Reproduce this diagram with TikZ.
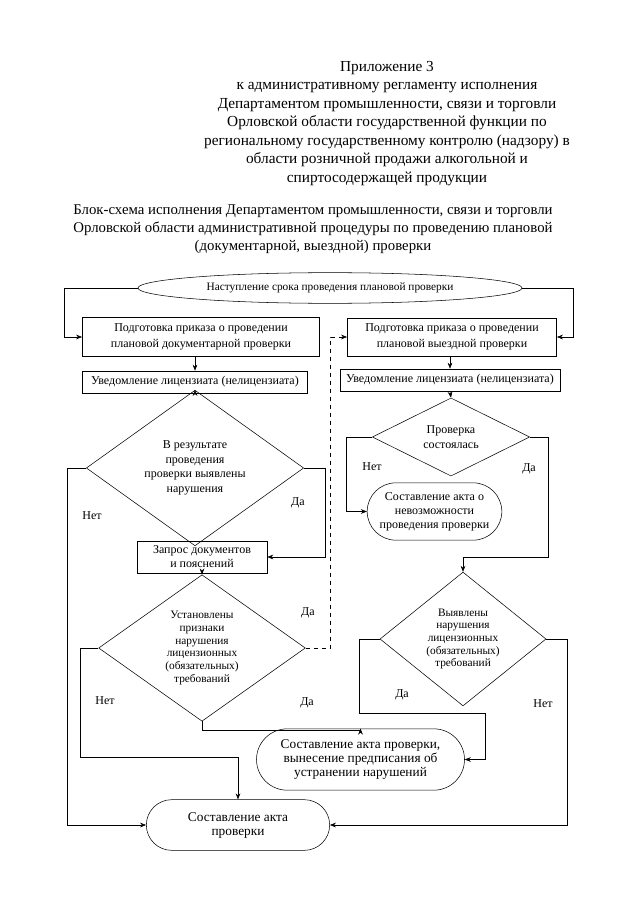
\documentclass[tikz,border=0pt]{standalone}
\usepackage{fontspec}
\setmainfont{Liberation Serif}
\usetikzlibrary{positioning,calc,arrows.meta,shapes.geometric,shapes.misc}

\begin{document}
\begin{tikzpicture}[x=0.75pt,y=-0.75pt,
  box/.style={draw,thin,align=center,inner sep=1pt,
              font=\fontsize{9}{12}\selectfont},
  term/.style={draw,thin,rounded rectangle,align=center,inner sep=1pt,
               font=\fontsize{10}{10.5}\selectfont},
  dec/.style={draw,thin,diamond,align=center,inner sep=0pt,
              font=\fontsize{9}{11}\selectfont},
  arr/.style={-{Stealth[length=4.5pt,width=3.5pt]},thin},
  lbl/.style={font=\fontsize{9}{10}\selectfont,inner sep=0pt}]
  \useasboundingbox (0,0) rectangle (640,905);
  % header
  \node[align=center,font=\fontsize{11.5}{13.9}\selectfont] (app) at (387,123.5)
    {Приложение 3\\к административному регламенту исполнения\\
     Департаментом промышленности, связи и торговли\\
     Орловской области государственной функции по\\
     региональному государственному контролю (надзору) в\\
     области розничной продажи алкогольной и\\
     спиртосодержащей продукции};
  \node[align=center,font=\fontsize{11.1}{13.5}\selectfont] (title) at (313,229)
    {Блок-схема исполнения Департаментом промышленности, связи и торговли\\
     Орловской области административной процедуры по проведению плановой\\
     (документарной, выездной) проверки};
  % blocks
  \node[draw,thin,ellipse,inner sep=0pt,minimum width=288pt,minimum height=23pt,
        font=\fontsize{8.5}{12}\selectfont] (start) at (330,288)
    {Наступление срока проведения плановой проверки};
  \node[box,minimum width=178pt,minimum height=29pt] (pdoc) at (201,337)
    {Подготовка приказа о проведении\\плановой документарной проверки};
  \node[box,minimum width=157pt,minimum height=28.5pt] (pvyezd) at (452,337)
    {Подготовка приказа о проведении\\плановой выездной проверки};
  \node[box,minimum width=169pt,minimum height=16.5pt] (uvl) at (195,382)
    {Уведомление лицензиата (нелицензиата)};
  \node[box,minimum width=165pt,minimum height=16.5pt] (uvr) at (450,380)
    {Уведомление лицензиата (нелицензиата)};
  \node[dec,minimum width=163pt,minimum height=88.5pt] (dec1) at (195,468)
    {В результате\\проведения\\проверки выявлены\\нарушения};
  \node[box,minimum width=97.5pt,minimum height=24pt,
        font=\fontsize{9}{10.5}\selectfont] (zapros) at (202,557)
    {Запрос документов\\и пояснений};
  \node[dec,minimum width=155pt,minimum height=94.5pt,
        font=\fontsize{8.5}{9.5}\selectfont] (dec2) at (202,648)
    {Установлены\\признаки\\нарушения\\лицензионных\\(обязательных)\\требований};
  \node[dec,minimum width=118pt,minimum height=52.5pt] (dec3) at (451,437)
    {Проверка\\состоялась};
  \node[term,minimum width=103pt,minimum height=43pt,
        font=\fontsize{9}{10.5}\selectfont] (nevozm) at (434.5,511.5)
    {Составление акта о\\невозможности\\проведения проверки};
  \node[dec,minimum width=124.5pt,minimum height=91.5pt,
        font=\fontsize{8.5}{9.5}\selectfont] (dec4) at (463,639)
    {Выявлены\\нарушения\\лицензионных\\(обязательных)\\требований};
  \node[term,minimum width=158pt,minimum height=46pt] (akt2) at (360.5,759.5)
    {Составление акта проверки,\\вынесение предписания об\\устранении нарушений};
  \node[term,minimum width=139.5pt,minimum height=38pt] (final) at (238,825)
    {Составление акта\\проверки};
  % connectors
  \draw[arr] (start.west) -- ++(-73,0) |- (pdoc.west);
  \draw[arr] (start.east) -- ++(51,0) |- (pvyezd.east);
  \draw[arr] (uvl.north |- pdoc.south) -- (uvl.north);
  \draw[arr] (uvl.south) -- (dec1.north);
  \draw[arr] (dec1.west) -- ++(-19,0) |- (final.west);
  \draw[arr] (dec1.east) -- ++(21,0) |- (zapros.east);
  \draw[arr] (zapros.south) -- (dec2.north);
  \draw[arr] (dec2.west) -- ++(-18,0) -- ++(0,109) -| (final.north);
  \draw[arr] (dec2.south) -- ++(0,9) -| (akt2.north);
  \draw[arr,dashed] (dec2.east) -- ++(25,0) |- (pvyezd.west);
  \draw[arr] (uvr.north |- pvyezd.south) -- (uvr.north);
  \draw[arr] (uvr.south) -- (dec3.north);
  \draw[arr] (dec3.west) -- ++(-26,0) |- (nevozm.west);
  \draw[arr] (dec3.east) -- ++(18,0) -- ++(0,120) -| (dec4.north);
  \draw[arr] (dec4.west) -- ++(-20,0) -- ++(0,74) -| ($(akt2.east)+(20,0)$) -- (akt2.east);
  \draw[arr] (dec4.east) -- ++(21,0) |- (final.east);
  % labels
  \node[lbl] (n1) at (92,516) {Нет};
  \node[lbl] (y1) at (298,503) {Да};
  \node[lbl] (y2a) at (308,613) {Да};
  \node[lbl] (n2) at (105,701) {Нет};
  \node[lbl] (y2) at (307,703) {Да};
  \node[lbl] (n3) at (372,467) {Нет};
  \node[lbl] (y3) at (529,469) {Да};
  \node[lbl] (y4) at (402,695) {Да};
  \node[lbl] (n4) at (543,704) {Нет};
\end{tikzpicture}
\end{document}
